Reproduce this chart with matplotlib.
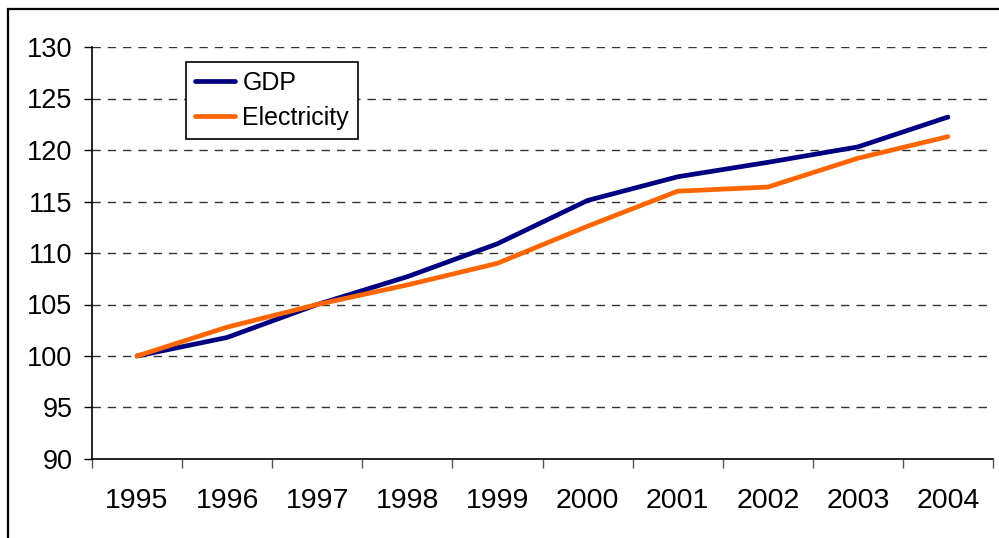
import matplotlib
matplotlib.use("Agg")
import matplotlib.pyplot as plt
from matplotlib.patches import Rectangle
import numpy as np

years = ['1995', '1996', '1997', '1998', '1999', '2000', '2001', '2002', '2003', '2004']
gdp = [100, 101.8, 105.0, 107.7, 110.9, 115.1, 117.4, 118.8, 120.3, 123.2]
electricity = [100, 102.8, 105.0, 106.9, 109.0, 112.6, 116.0, 116.4, 119.2, 121.3]
y_ticks = [90, 95, 100, 105, 110, 115, 120, 125, 130]

plt.rcParams['font.family'] = ['Liberation Sans', 'DejaVu Sans']

fig = plt.figure(figsize=(9.99, 5.38), dpi=100)
ax = fig.add_axes([92 / 999, 1 - 459 / 538, (993 - 92) / 999, (459 - 47) / 538])

x = np.arange(len(years))
ax.plot(x, gdp, color='#000080', lw=3.4, solid_capstyle='round', label='GDP', zorder=3)
ax.plot(x, electricity, color='#FF6600', lw=3.4, solid_capstyle='round', label='Electricity', zorder=3)

ax.set_xlim(-0.5, len(years) - 0.5)
ax.set_ylim(90, 130)
ax.set_yticks(y_ticks)
ax.set_yticklabels([str(v) for v in y_ticks], fontsize=19.5)
ax.tick_params(axis='y', length=6, width=1, pad=8, direction='out')

# category labels centred, tick marks between categories
ax.set_xticks(x)
ax.set_xticklabels(years, fontsize=20.5)
ax.tick_params(axis='x', which='major', length=0, pad=21)
ax.set_xticks(np.arange(-0.5, len(years)), minor=True)
ax.tick_params(axis='x', which='minor', length=6.5, width=1, color='#555555', direction='out')

for v in y_ticks[1:]:
    ax.axhline(v, color='#333333', lw=1, dashes=(6, 5), zorder=1)

for s in ['top', 'right']:
    ax.spines[s].set_visible(False)
for s in ['left', 'bottom']:
    ax.spines[s].set_linewidth(1.2)

leg = ax.legend(loc='upper left', bbox_to_anchor=(186 / 999, 1 - 62 / 538),
                bbox_transform=fig.transFigure, fontsize=18, frameon=True,
                fancybox=False, framealpha=1, edgecolor='black',
                handlelength=1.6, handletextpad=0.3, borderpad=0.35, labelspacing=0.45,
                borderaxespad=0)
leg.get_frame().set_linewidth(1.2)
leg.set_zorder(5)

fig.patches.append(Rectangle((8 / 999, -0.1), 1.2, 0.1 + 1 - 9 / 538, transform=fig.transFigure,
                             fill=False, edgecolor='black', lw=1.6))

fig.savefig('out.png', dpi=100)
